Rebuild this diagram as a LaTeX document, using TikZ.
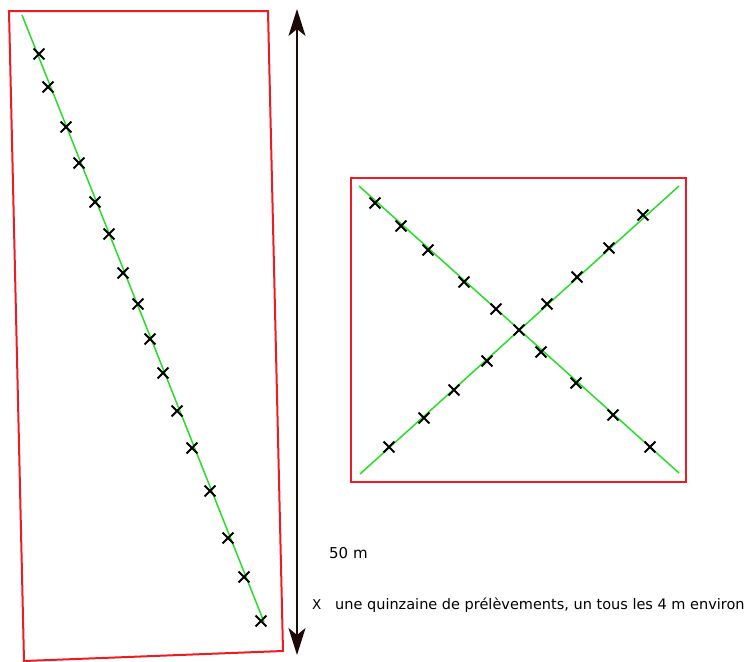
\documentclass[tikz,border=0pt]{standalone}
\usepackage{fontspec}
\setmainfont{DejaVu Sans}
\usetikzlibrary{shapes.misc,arrows.meta}
\definecolor{plotred}{RGB}{236,28,36}
\definecolor{transgreen}{RGB}{40,220,40}
\definecolor{arrowdark}{RGB}{30,8,8}
\tikzset{
  plotline/.style={draw=plotred, line width=2pt},
  transect/.style={draw=transgreen, line width=1.5pt},
  sample/.style={cross out, draw=black, line width=1.8pt, minimum size=9pt, inner sep=0pt},
  scalearrow/.style={draw=arrowdark, line width=2pt, {Stealth[length=27pt,width=17pt,inset=7pt]}-{Stealth[length=27pt,width=17pt,inset=7pt]}},
  label/.style={font=\fontsize{15}{17}\selectfont, text=black, inner sep=0pt, anchor=base west}
}
\begin{document}
\begin{tikzpicture}[x=1pt,y=-1pt]
\useasboundingbox (0,0) rectangle (748,662);
% left plot
\draw[plotline] (9,11) -- (268,11) -- (283,651) -- (24,661) -- cycle;
\coordinate (l1) at (22,15);
\coordinate (l2) at (264,622);
\draw[transect] (l1) -- (l2);
\foreach \i/\p in {1/{39,54},2/{48,87},3/{66,127},4/{79,163},5/{95,202},6/{109,234},7/{123,273},8/{138,304},9/{150,339},10/{163,373},11/{177,411},12/{192,448},13/{210,491},14/{228,538},15/{244,577},16/{261,621}}
  \node[sample] (a\i) at (\p) {};
% scale arrow
\coordinate (top) at (297,9);
\coordinate (bot) at (297,655);
\draw[scalearrow] (top) -- (bot);
\node[label] (scale) at (329,558) {50 m};
% right plot
\draw[plotline] (351,178) rectangle (686,482);
\coordinate (r1) at (359,186);
\coordinate (r2) at (679,473);
\coordinate (r3) at (360,474);
\coordinate (r4) at (679,186);
\draw[transect] (r1) -- (r2);
\draw[transect] (r3) -- (r4);
\foreach \i/\p in {1/{375,203},2/{401,226},3/{428,250},4/{464,282},5/{496,309},6/{519,330},7/{541,352},8/{576,383},9/{613,415},10/{650,447}}
  \node[sample] (b\i) at (\p) {};
\foreach \i/\p in {1/{389,447},2/{424,418},3/{454,390},4/{487,361},5/{547,304},6/{577,277},7/{609,248},8/{643,215}}
  \node[sample] (c\i) at (\p) {};
% legend
\node[label, font=\fontsize{13.5}{16}\selectfont] (legx) at (312,609) {X};
\node[label, font=\fontsize{14.5}{16}\selectfont] (legend) at (335,609) {une quinzaine de prélèvements, un tous les 4 m environ};
\end{tikzpicture}
\end{document}
